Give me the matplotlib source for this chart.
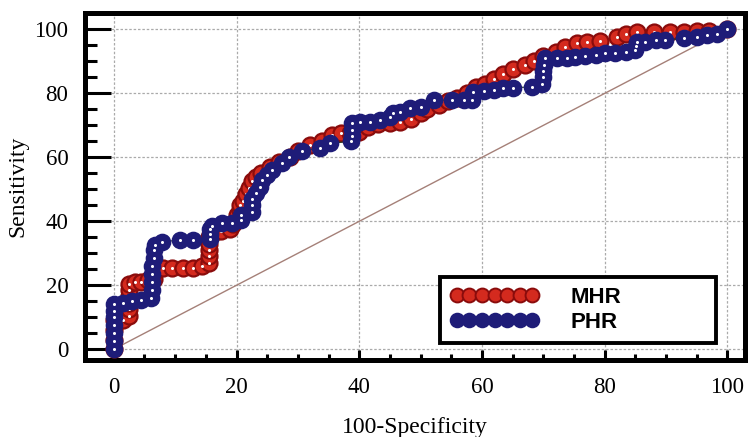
import matplotlib
matplotlib.use("Agg")
import matplotlib.pyplot as plt
from matplotlib.lines import Line2D
from matplotlib.ticker import MultipleLocator

# ROC data (100-Specificity, Sensitivity)
mhr_x = [0, 0, 0, 0, 1.5, 2.5, 2.5, 2.5, 2.5, 2.5, 2.5, 3.5, 4.5, 5.5, 6.5, 6.5, 7, 8, 9.5, 11.3, 12.9,
         14.3, 15.5, 15.5, 15.5, 15.5, 15.5, 15.8, 16.5, 17.5, 19, 19.5, 20, 20, 20.5, 20.5, 21, 21.5,
         22, 22.5, 23.2, 24, 25.5, 27, 28.7, 30, 32, 34, 35.5, 37, 38.5, 40, 41.5, 43, 45, 46.7, 48.5,
         50, 51, 53, 54.5, 56, 57.5, 59, 60.5, 62, 63.5, 65, 67, 68.4, 70, 72, 73.5, 75.5, 77.1, 79.3,
         82, 83.5, 85.3, 88, 90.7, 93, 95, 97, 100]
mhr_y = [0, 3, 6, 9, 9, 10.5, 12.5, 14.5, 16.5, 18.5, 20.5, 21, 21, 21.5, 22, 24, 25, 25.3, 25.5, 25.5,
         25.5, 26, 27, 29, 31, 33, 35, 36, 36.5, 37, 37.5, 39, 40.5, 42, 43.5, 45, 46.5, 48.5,
         50.5, 52.5, 54, 55, 57, 58.5, 60, 62, 63.8, 65, 67, 67.5, 67.5, 68, 69.5, 70.5, 70.6, 71, 72,
         73.8, 75, 76.5, 77.5, 78.5, 80, 82, 83, 84.5, 86, 87.5, 88.8, 90.2, 91.8, 93, 94.6, 95.6, 96.1,
         96.5, 97.7, 98.5, 99.2, 99.3, 99.3, 99.3, 99.5, 99.5, 100]

phr_x = [0, 0, 0, 0, 0, 0, 0, 1.5, 3, 4.5,
         6, 6.3, 6.3, 6.3, 6.3, 6.5, 6.5, 6.7, 7.8, 10.8,
         12.9, 15.7, 15.7, 15.7, 16, 17.6, 19.2, 20.8, 20.8, 22.5,
         22.5, 22.5, 23.2, 23.8, 24.2, 25, 25.7, 27.4, 28.5, 30.6,
         33.6, 35.3, 38.6, 38.8, 38.8, 38.8, 40.2, 41.8, 43.4, 45,
         45.5, 46.7, 48.3, 50, 52.2, 55.1, 57, 58.4, 58.6, 60.3,
         61.9, 63.5, 65, 68.1, 69.8, 70, 70, 70.1, 70.2, 72.2,
         73.8, 75.2, 76.8, 78.5, 80.1, 81.7, 83.4, 85, 85.1, 85.2,
         86.6, 88.3, 89.9, 92.9, 95.1, 96.7, 98.3, 100]
phr_y = [0, 2.5, 5, 7.5, 10, 12, 14, 14.5, 15, 15.5,
         16, 18.5, 21, 23.5, 26, 28.5, 31, 32.5, 33.5, 34.2,
         34.2, 34.5, 36, 37.5, 38.5, 39.4, 39.5, 40.5, 42, 43,
         45, 47, 49, 50.8, 53, 54.5, 56, 58.1, 60, 62,
         63, 64.4, 65, 66.8, 68.6, 70.6, 71, 71.2, 71.7, 72.7,
         74, 74.3, 75.3, 75.8, 77.9, 77.9, 77.9, 78, 80.5, 80.7,
         81, 81.6, 81.8, 82, 83, 85, 87, 89, 91.2, 91,
         91, 91.4, 91.7, 92, 92.5, 92.6, 93, 93.5, 94.8, 96,
         96.1, 96.7, 96.7, 97.2, 97.7, 98.2, 98.7, 100]

ticks = [0, 20, 40, 60, 80, 100]
series_names = ["MHR", "PHR"]

RED_FACE = "#d42a1e"
RED_EDGE = "#8a0c0c"
NAVY = "#1e1c78"
DIAG = "#a58078"

fig = plt.figure(figsize=(7.52, 4.37), dpi=100)
ax = fig.add_axes([0.113, 0.176, 0.878, 0.794])

ax.plot([0, 100], [0, 100], color=DIAG, lw=1.0, zorder=2)

ax.plot(mhr_x, mhr_y, color="#2a2a2a", lw=0.8, marker="o", ms=11.5,
        mfc=RED_FACE, mec=RED_EDGE, mew=1.6, zorder=3)
ax.plot(mhr_x, mhr_y, ls="none", marker="o", ms=2.2, mfc="white", mec="none", zorder=3.1)
ax.plot(phr_x, phr_y, color="#1f3a1f", lw=0.8, marker="o", ms=11.5,
        mfc=NAVY, mec=NAVY, mew=1.2, zorder=4)
ax.plot(phr_x, phr_y, ls="none", marker="o", ms=2.2, mfc="white", mec="none", zorder=4.1)

ax.set_xlim(-4.7, 102.9)
ax.set_ylim(-3.4, 105.1)
ax.set_xticks(ticks)
ax.set_yticks(ticks)
ax.xaxis.set_minor_locator(MultipleLocator(5))
ax.yaxis.set_minor_locator(MultipleLocator(5))

serif = "Liberation Serif"
ax.set_xticklabels([str(t) for t in ticks], fontfamily=serif, fontsize=16.5)
ax.set_yticklabels([str(t) for t in ticks], fontfamily=serif, fontsize=16.5)
ax.tick_params(axis="y", which="major", direction="in", length=19, width=2.2, pad=12)
ax.tick_params(axis="y", which="minor", direction="in", length=8.5, width=2.2)
ax.tick_params(axis="x", which="major", direction="in", length=7.5, width=2.2, pad=12)
ax.tick_params(axis="x", which="minor", direction="in", length=4.5, width=2.2)

for s in ax.spines.values():
    s.set_linewidth(3.6)
    s.set_color("black")

ax.grid(True, which="major", color="#aaaaaa", ls=(0, (2, 1.5)), lw=0.9, zorder=1)
ax.set_axisbelow(True)

ax.set_xlabel("100-Specificity", fontfamily=serif, fontsize=17, labelpad=14)
ax.set_ylabel("Sensitivity", fontfamily=serif, fontsize=17, labelpad=4)

handles = [
    Line2D([0], [0], color="#2a2a2a", lw=0.8, marker="o", ms=10, mfc=RED_FACE, mec=RED_EDGE, mew=1.4),
    Line2D([0], [0], color="#1f3a1f", lw=0.8, marker="o", ms=10, mfc=NAVY, mec=NAVY, mew=1.2),
]
leg = ax.legend(handles, series_names, loc="lower left", bbox_to_anchor=(0.538, 0.049, 0.417, 0.181),
                mode="expand", numpoints=7, handlelength=4.0, handletextpad=1.4, borderpad=0.45,
                borderaxespad=0, labelspacing=0.2, fancybox=False, framealpha=1, edgecolor="black",
                prop={"family": "Liberation Sans", "weight": "bold", "size": 16})
leg.get_frame().set_linewidth(2.8)
leg.set_zorder(10)

fig.savefig("out.png", dpi=100)
